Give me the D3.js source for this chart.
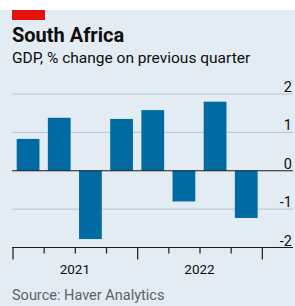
<!DOCTYPE html>
<html>
<head>
<meta charset="utf-8">
<script src="https://cdn.jsdelivr.net/npm/d3@7"></script>
<style>
  body { margin: 0; background: #fff; }
  #chart text { font-family: Roboto, "Noto Sans", sans-serif; }
</style>
</head>
<body>
<div id="chart"></div>
<script>
// GDP, % change on previous quarter, 2021 Q1 - 2022 Q4
var quarters = ["2021 Q1", "2021 Q2", "2021 Q3", "2021 Q4", "2022 Q1", "2022 Q2", "2022 Q3", "2022 Q4"];
var gdpChange = [0.83, 1.38, -1.78, 1.35, 1.58, -0.8, 1.8, -1.23];
var yTicks = [-2, -1, 0, 1, 2];
var yearLabels = ["2021", "2022"];

var width = 295,
    height = 306;

var svg = d3.select("#chart")
    .append("svg")
    .attr("width", width)
    .attr("height", height);

// panel background
svg.append("rect")
    .attr("x", 0).attr("y", 10)
    .attr("width", width).attr("height", height - 10)
    .attr("fill", "#e3ecf2");

svg.append("rect")
    .attr("x", 12).attr("y", 10)
    .attr("width", 33).attr("height", 10)
    .attr("fill", "#e3120b");

svg.append("text")
    .attr("x", 12).attr("y", 42)
    .style("font-size", "20px")
    .style("font-weight", "bold")
    .attr("fill", "#0d0d0d")
    .text("South Africa");

svg.append("text")
    .attr("x", 12).attr("y", 63)
    .style("font-size", "15.5px")
    .attr("fill", "#0d0d0d")
    .text("GDP, % change on previous quarter");

// one slot per quarter, plus an empty one at the right end
var x = d3.scaleLinear()
    .domain([0, quarters.length + 1])
    .range([12.5, 293]);

var y = d3.scaleLinear()
    .domain([-2, 2])
    .range([247.5, 94]);

var slot = x(1) - x(0);
var barW = slot * 0.73;

// gridlines
svg.selectAll(".grid")
    .data(yTicks.filter(function (d) { return d !== 0 && d !== -2; }))
    .enter().append("line")
    .attr("x1", 12).attr("x2", 293)
    .attr("y1", function (d) { return y(d); })
    .attr("y2", function (d) { return y(d); })
    .attr("stroke", "#b7c4cc")
    .attr("stroke-width", 1);

svg.selectAll(".ylab")
    .data(yTicks)
    .enter().append("text")
    .attr("x", 292)
    .attr("y", function (d) { return y(d) - 2; })
    .attr("text-anchor", "end")
    .style("font-size", "14.5px")
    .attr("fill", "#0d0d0d")
    .text(function (d) { return d < 0 ? "-" + Math.abs(d) : d; });

// bars
svg.selectAll(".bar")
    .data(gdpChange)
    .enter().append("rect")
    .attr("x", function (d, i) { return x(i) + (slot - barW) / 2; })
    .attr("width", barW)
    .attr("y", function (d) { return y(Math.max(0, d)); })
    .attr("height", function (d) { return Math.abs(y(d) - y(0)); })
    .attr("fill", "#006ba2");

// zero line
svg.append("line")
    .attr("x1", 12).attr("x2", 293)
    .attr("y1", y(0)).attr("y2", y(0))
    .attr("stroke", "#1a1a1a")
    .attr("stroke-width", 1.2);

// bottom axis
var axis = d3.axisBottom(x)
    .tickValues(d3.range(0, quarters.length + 1))
    .tickSize(5)
    .tickFormat("");

var ax = svg.append("g")
    .attr("transform", "translate(0," + y(-2) + ")")
    .call(axis);

ax.select(".domain").remove();
ax.selectAll(".tick line")
    .attr("stroke", "#1a1a1a")
    .attr("stroke-width", 1.2)
    .attr("y2", function (d) { return d % 4 === 0 ? 12 : 6; });

svg.append("line")
    .attr("x1", 12).attr("x2", 293)
    .attr("y1", y(-2)).attr("y2", y(-2))
    .attr("stroke", "#1a1a1a")
    .attr("stroke-width", 1.2);

svg.selectAll(".year")
    .data(yearLabels)
    .enter().append("text")
    .attr("x", function (d, i) { return x(i * 4 + 2); })
    .attr("y", 274)
    .attr("text-anchor", "middle")
    .style("font-size", "13.5px")
    .attr("fill", "#0d0d0d")
    .text(function (d) { return d; });

svg.append("text")
    .attr("x", 12).attr("y", 300)
    .style("font-size", "14.5px")
    .attr("fill", "#5e6266")
    .text("Source: Haver Analytics");
</script>
</body>
</html>
